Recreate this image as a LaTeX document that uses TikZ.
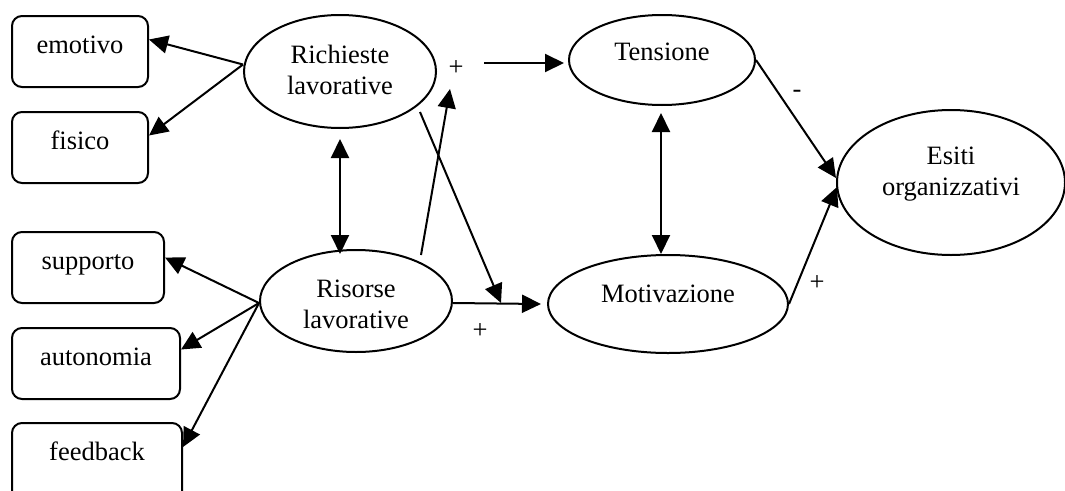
\documentclass[tikz,border=0pt]{standalone}
\usepackage{fontspec}
\setmainfont{Liberation Serif}
\usetikzlibrary{arrows.meta,shapes.geometric}
% text placed by its baseline relative to the node centre
\newcommand\basedtext[2]{\raisebox{#1}[0pt][0pt]{#2}}
\newcommand\twolines[3]{\raisebox{#1}[0pt][0pt]{\begin{tabular}[b]{@{}c@{}}#2\\#3\end{tabular}}}
\tikzset{
  every node/.style={font=\fontsize{26.5}{31}\selectfont, inner sep=0pt},
  itembox/.style={draw, line width=2pt, rounded corners=10pt, minimum height=71pt},
  oval/.style={draw, ellipse, line width=2pt},
  link/.style={line width=2pt, -{Triangle[length=19pt,width=18pt]}},
  bothway/.style={line width=2pt, {Triangle[length=19pt,width=18pt]}-{Triangle[length=19pt,width=18pt]}},
  sign/.style={}
}
\begin{document}
\begin{tikzpicture}[x=1pt,y=-1pt]
\useasboundingbox (0,0) rectangle (1065,490);

% indicator boxes
\node[itembox, minimum width=136pt] (emo) at (80,51.5) {\basedtext{-1.5pt}{emotivo}};
\node[itembox, minimum width=136pt] (fis) at (80,147.5) {\basedtext{-1.5pt}{fisico}};
\node[itembox, minimum width=152pt] (sup) at (88,267.5) {\basedtext{-1.5pt}{supporto}};
\node[itembox, minimum width=168pt] (aut) at (96,363.5) {\basedtext{-1.5pt}{autonomia}};
\node[itembox, minimum width=170pt, minimum height=80pt] (fee) at (97,463) {\basedtext{2.3pt}{feedback}};

% latent constructs
\node[oval, minimum width=192pt, minimum height=113pt] (ric) at (340,71.5) {\twolines{-22.5pt}{Richieste}{lavorative}};
\node[oval, minimum width=192pt, minimum height=102pt] (ris) at (356,301) {\twolines{-27pt}{Risorse}{lavorative}};
\node[oval, minimum width=186pt, minimum height=90pt] (ten) at (662,60) {\basedtext{0pt}{Tensione}};
\node[oval, minimum width=240pt, minimum height=98pt] (mot) at (668,304) {\basedtext{2pt}{Motivazione}};
\node[oval, minimum width=228pt, minimum height=145pt] (esi) at (951,182.5) {\twolines{-12.5pt}{Esiti}{organizzativi}};

% signs
\node[sign] (p1) at (456,68) {+};
\node[sign] (p2) at (480,331.5) {+};
\node[sign] (m1) at (797,94) {-};
\node[sign] (p3) at (817,283) {+};

% free ends of the path arrows
\coordinate (tstart) at (484,63);
\coordinate (rup) at (421,255);
\coordinate (rupend) at (450,89);
\coordinate (rdown) at (420,112);
\coordinate (modpt) at (501,303);

% indicators
\draw[link] ([yshift=7pt]ric.west) -- ([yshift=12pt]emo.east);
\draw[link] ([yshift=7pt]ric.west) -- ([yshift=12pt]fis.east);
\draw[link] ([yshift=-2pt]ris.west) -- ([yshift=10pt]sup.east);
\draw[link] ([yshift=-2pt]ris.west) -- ([yshift=14pt]aut.east);
\draw[link] ([yshift=-2pt]ris.west) -- ([yshift=16pt]fee.east);

% correlations
\draw[bothway] ([yshift=-10pt]ric.south) -- ([xshift=-16pt,yshift=-5pt]ris.north);
\draw[bothway] ([xshift=-1pt,yshift=-7pt]ten.south) -- ([xshift=-7pt]mot.north);

% paths
\draw[link] (tstart) -- ([xshift=-4pt,yshift=-3pt]ten.west);
\draw[link] (rup) -- (rupend);
\draw[link] ([yshift=-2pt]ris.east) -- ([xshift=-6pt]mot.west);
\draw[link] (rdown) -- (modpt);
\draw[link] (ten.east) -- ([yshift=4.5pt]esi.west);
\draw[link] (mot.east) -- ([xshift=1pt,yshift=-4.5pt]esi.west);
\end{tikzpicture}
\end{document}
